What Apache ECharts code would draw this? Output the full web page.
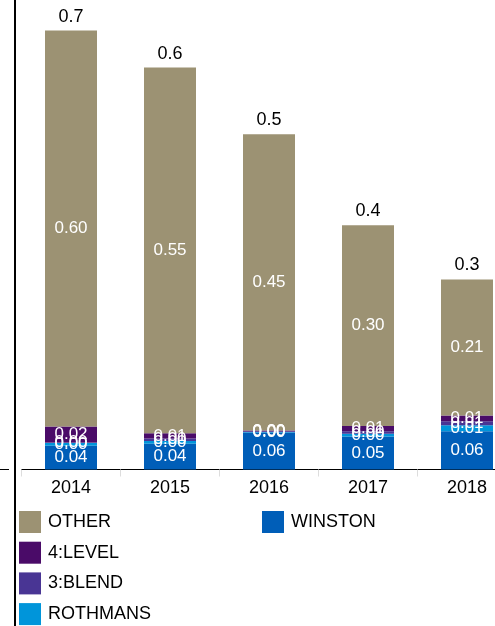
<!DOCTYPE html>
<html>
<head>
<meta charset="utf-8">
<script src="https://cdn.jsdelivr.net/npm/echarts@6/dist/echarts.min.js"></script>
<style>
    html, body { margin: 0; padding: 0; background: #fff; }
    #chart { width: 495px; height: 626px; }
</style>
</head>
<body>
<div id="chart"></div>
<script>
var years = ['2014', '2015', '2016', '2017', '2018'];
var winston = [0.036, 0.039, 0.056, 0.050, 0.058];
var rothmans = [0.004, 0.004, 0.001, 0.004, 0.009];
var blend = [0.001, 0.004, 0.001, 0.004, 0.006];
var level = [0.024, 0.008, 0.001, 0.008, 0.009];
var other = [0.600, 0.554, 0.449, 0.304, 0.206];
var totalLabels = ['0.7', '0.6', '0.5', '0.4', '0.3'];

var fontName = 'Liberation Sans, Arial, sans-serif';

function segment(name, data, color) {
    return {
        name: name,
        type: 'bar',
        stack: 'all',
        barWidth: 52,
        data: data,
        itemStyle: {color: color},
        label: {
            show: true,
            position: 'inside',
            color: '#fff',
            fontSize: 17,
            fontFamily: fontName,
            formatter: function (p) {
                return p.value.toFixed(2);
            }
        }
    };
}

var chart = echarts.init(document.getElementById('chart'));

var option = {
    animation: false,
    textStyle: {fontFamily: fontName},
    // grid runs past the right edge, like the original
    grid: {left: 21.5, width: 495, top: 7.5, height: 462, outerBoundsMode: 'none', containLabel: false},
    xAxis: {
        type: 'category',
        data: years,
        axisLine: {lineStyle: {color: '#000', width: 1}},
        axisTick: {show: true, length: 7, lineStyle: {color: '#ddd'}},
        axisLabel: {color: '#000', fontSize: 18, margin: 10, fontFamily: fontName}
    },
    yAxis: {
        type: 'value',
        min: 0,
        max: 0.7,
        show: false
    },
    legend: [
        {
            orient: 'vertical',
            left: 19,
            top: 511,
            height: 130,
            padding: 0,
            itemWidth: 22,
            itemHeight: 22,
            itemGap: 8.7,
            icon: 'rect',
            textStyle: {color: '#000', fontSize: 18, fontFamily: fontName, padding: [0, 0, 0, 2]},
            data: ['OTHER', '4:LEVEL', '3:BLEND', 'ROTHMANS']
        },
        {
            orient: 'vertical',
            left: 262,
            top: 511,
            padding: 0,
            itemWidth: 22,
            itemHeight: 22,
            icon: 'rect',
            textStyle: {color: '#000', fontSize: 18, fontFamily: fontName, padding: [0, 0, 0, 2]},
            data: ['WINSTON']
        }
    ],
    series: [
        segment('WINSTON', winston, '#005eb8'),
        segment('ROTHMANS', rothmans, '#0095da'),
        segment('3:BLEND', blend, '#493594'),
        segment('4:LEVEL', level, '#4a0b68'),
        segment('OTHER', other, '#9c9273'),
        {
            name: 'Total',
            type: 'bar',
            stack: 'all',
            barWidth: 52,
            data: [0, 0, 0, 0, 0],
            itemStyle: {color: 'transparent'},
            label: {
                show: true,
                position: 'top',
                distance: 5,
                color: '#000',
                fontSize: 18,
                fontFamily: fontName,
                formatter: function (p) {
                    return totalLabels[p.dataIndex];
                }
            }
        }
    ],
    graphic: [
        {
            type: 'line',
            shape: {x1: 15, y1: 0, x2: 15, y2: 626},
            style: {stroke: '#000', lineWidth: 2}
        },
        {
            type: 'line',
            shape: {x1: 0, y1: 469.5, x2: 9, y2: 469.5},
            style: {stroke: '#000', lineWidth: 1}
        }
    ]
};

chart.setOption(option);
</script>
</body>
</html>
